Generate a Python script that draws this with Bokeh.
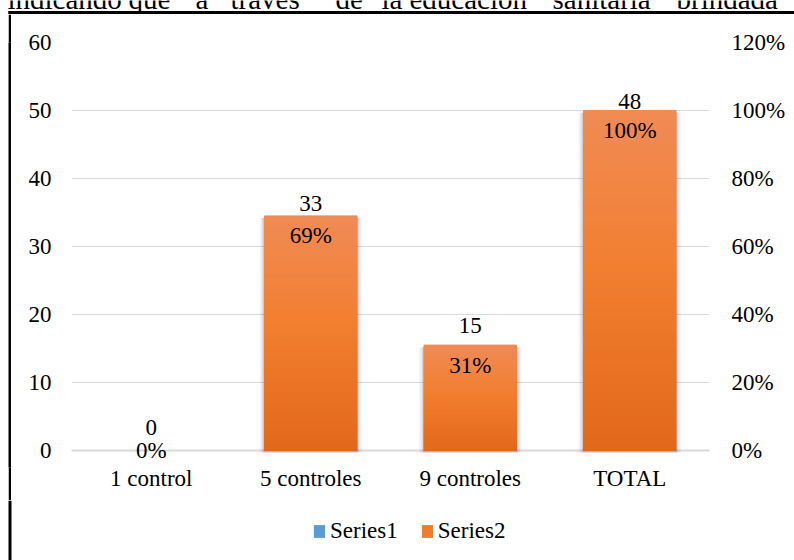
from bokeh.plotting import figure
from bokeh.layouts import column, row
from bokeh.models import (ColumnDataSource, FactorRange, Range1d, LinearAxis, FixedTicker,
                          NumeralTickFormatter, Legend, LegendItem, Span, Spacer)
from bokeh.core.properties import value
from bokeh.embed import file_html
from bokeh.resources import INLINE

# ---- data -------------------------------------------------------------
categories = ["1 control", "5 controles", "9 controles", "TOTAL"]
series1 = [0, 33, 15, 48]            # number of children
series2 = [0.00, 0.69, 0.31, 1.00]   # share of the total
series_names = ["Series1", "Series2"]
count_ticks = [0, 10, 20, 30, 40, 50, 60]
share_ticks = [0.0, 0.2, 0.4, 0.6, 0.8, 1.0, 1.2]
header_words = ["indicando", "que", "a", "través", "de", "la",
                "educación", "sanitaria", "brindada"]

# ---- page layout --------------------------------------------------------
W, H = 794, 560
HEAD_H = 14                  # end of the paragraph above the chart + top edge of its frame
FOOT_H = 60                  # legend strip
EDGE_X, EDGE_W = 8, 3        # left edge of the chart's frame
CW, CH = W - EDGE_X - EDGE_W, H - HEAD_H - FOOT_H
FL, FR, FT, FB = 60, 698, 28, 453          # plot frame edges inside the chart figure
COUNT_MAX, COUNT_FLOOR = 60, -2.5          # a little room under the baseline for the 0% label
SHARE_MAX = 1.2
SHARE_FLOOR = COUNT_FLOOR / COUNT_MAX * SHARE_MAX
PX = len(categories) / (FR - FL)           # one pixel in category units
BAR_W = 0.58
FONT = "Liberation Serif, Times New Roman, serif"
FS = "23px"
HEAD_FS = 29
INK = "#000000"
GRID = "#D9D9D9"
BLUE, ORANGE = "#5B9BD5", "#ED7D31"
header_x = [7, 128, 195, 230, 335, 381, 409, 552, 676]
HEAD_BASELINE = 8
EDGE_MID = EDGE_X + EDGE_W / 2


def bare(w, h, x_end, y_start, fill="white"):
    fig = figure(width=w, height=h, x_range=Range1d(0, x_end), y_range=Range1d(y_start, 0),
                 output_backend="svg", toolbar_location=None, min_border=0)
    fig.axis.visible = False
    fig.grid.visible = False
    fig.outline_line_color = None
    fig.background_fill_color = fill
    fig.border_fill_color = fill
    return fig


# ---- paragraph line and top edge of the frame --------------------------
head = bare(W, HEAD_H, W, HEAD_H)
# "middle" anchors the text box centre; shift it so the baseline sits at HEAD_BASELINE
mid_shift = (0.891 - 0.216) / 2 * HEAD_FS
head.text(x=header_x, y=[HEAD_BASELINE - mid_shift] * len(header_words), text=header_words,
          text_align="left", text_baseline="middle",
          text_font=value(FONT), text_font_size=f"{HEAD_FS}px", text_color=INK)
head.segment(x0=[EDGE_X], y0=[12], x1=[W], y1=[12], line_color="black", line_width=EDGE_W)
head.segment(x0=[EDGE_MID], y0=[10.5], x1=[EDGE_MID], y1=[HEAD_H], line_color="black", line_width=EDGE_W)

# ---- left edge of the frame ---------------------------------------------
gap = Spacer(width=EDGE_X, height=CH, styles={"background-color": "white"})
edge = bare(EDGE_W, CH, EDGE_W, CH, fill="black")

# ---- chart ------------------------------------------------------------
p = figure(width=CW, height=CH, x_range=FactorRange(*categories, range_padding=0),
           y_range=Range1d(COUNT_FLOOR, COUNT_MAX), output_backend="svg", toolbar_location=None,
           min_border_left=FL, min_border_right=CW - FR,
           min_border_top=FT, min_border_bottom=CH - FB)
p.extra_y_ranges = {"pct": Range1d(SHARE_FLOOR, SHARE_MAX)}
p.outline_line_color = None
p.background_fill_color = "white"
p.border_fill_color = "white"

# baseline, drawn under the bars like the grid
p.add_layout(Span(location=0, dimension="width", line_color=GRID, line_width=2, level="underlay"))

# Series1 (counts, primary axis)
src1 = ColumnDataSource(dict(cat=categories, n=series1,
                             label=[str(v) for v in series1]))
p.vbar(x="cat", top="n", width=BAR_W, source=src1, fill_color=BLUE, line_color=None)

# Series2 (shares, secondary axis)
src2 = ColumnDataSource(dict(cat=categories, pct=series2,
                             label=[f"{round(v * 100)}%" for v in series2],
                             off=[20 if v > 0 else 0 for v in series2]))

# soft drop shadow around the non-empty bars
shadow_src = ColumnDataSource(dict(
    cat=[c for c, v in zip(categories, series2) if v > 0],
    top=[v - 0.006 for v in series2 if v > 0]))
for spread, alpha in [(10, 0.04), (7, 0.05), (4, 0.07), (2, 0.10)]:
    p.vbar(x="cat", top="top", bottom=-0.006, width=BAR_W + spread * PX,
           source=shadow_src, y_range_name="pct",
           fill_color="black", fill_alpha=alpha, line_color=None)

p.vbar(x="cat", top="pct", width=BAR_W, source=src2, y_range_name="pct",
       fill_color=ORANGE, line_color=None)


def hex_to_rgb(h):
    h = h.lstrip("#")
    return [int(h[i:i + 2], 16) for i in (0, 2, 4)]


def blend(stops, f):
    for (f0, c0), (f1, c1) in zip(stops, stops[1:]):
        if f <= f1:
            t = (f - f0) / (f1 - f0)
            a, b = hex_to_rgb(c0), hex_to_rgb(c1)
            return "#%02x%02x%02x" % tuple(round(x + (y - x) * t) for x, y in zip(a, b))
    return stops[-1][1]


# vertical gradient: darker at the base, lighter at the top
stops = [(0.0, "#E2681B"), (0.55, "#F27F31"), (1.0, "#F08B55")]
N_BANDS = 40
bx, bb, bt, bc = [], [], [], []
for c, v in zip(categories, series2):
    if v <= 0:
        continue
    for k in range(N_BANDS):
        bx.append(c)
        bb.append(v * k / N_BANDS)
        bt.append(v * (k + 1) / N_BANDS)
        bc.append(blend(stops, (k + 0.5) / N_BANDS))
bands = ColumnDataSource(dict(cat=bx, bottom=bb, top=bt, color=bc))
p.vbar(x="cat", bottom="bottom", top="top", width=BAR_W, source=bands,
       y_range_name="pct", fill_color="color", line_color="color", line_width=1)

# data labels
p.text(x="cat", y="n", text="label", source=src1, y_offset=-23,
       text_align="center", text_baseline="middle",
       text_font=value(FONT), text_font_size=FS, text_color=INK)
p.text(x="cat", y="pct", text="label", source=src2, y_range_name="pct", y_offset="off",
       text_align="center", text_baseline="middle",
       text_font=value(FONT), text_font_size=FS, text_color=INK)


# axes & grid
def style_axis(ax, standoff):
    ax.axis_line_color = None
    ax.major_tick_line_color = None
    ax.minor_tick_line_color = None
    ax.major_tick_out = 0
    ax.major_tick_in = 0
    ax.major_label_standoff = standoff
    ax.major_label_text_font = FONT
    ax.major_label_text_font_size = FS
    ax.major_label_text_color = INK


yl = p.yaxis[0]
yl.ticker = FixedTicker(ticks=count_ticks)
style_axis(yl, 20)

yr = LinearAxis(y_range_name="pct", ticker=FixedTicker(ticks=share_ticks),
                formatter=NumeralTickFormatter(format="0%"))
style_axis(yr, 22)
p.add_layout(yr, "right")

xa = p.xaxis[0]
style_axis(xa, -2)

p.ygrid.ticker = FixedTicker(ticks=count_ticks)
p.ygrid.grid_line_color = GRID
p.ygrid.grid_line_width = 1
p.xgrid.grid_line_color = None

# ---- legend strip (continues the frame's left edge) ---------------------
foot = bare(W, FOOT_H, W, FOOT_H)
foot.segment(x0=[EDGE_MID], y0=[0], x1=[EDGE_MID], y1=[FOOT_H], line_color="black", line_width=EDGE_W)
# zero-height key glyphs: they only lend their colours to the legend swatches
keys = [foot.vbar(x=[0], top=[0], bottom=[0], width=1, fill_color=col, line_color=None)
        for col in (BLUE, ORANGE)]
legend = Legend(items=[LegendItem(label=name, renderers=[r], index=0)
                       for name, r in zip(series_names, keys)],
                orientation="horizontal", location=(312, 16),
                glyph_width=14, glyph_height=16, label_standoff=4, spacing=22,
                padding=0, margin=0, border_line_color=None,
                background_fill_alpha=0, label_text_font=FONT,
                label_text_font_size=FS, label_text_color=INK, label_height=16)
foot.add_layout(legend, "center")

page = column(head, row(gap, edge, p, spacing=0), foot, spacing=0)
open("out.html", "w").write(file_html(page, INLINE))
